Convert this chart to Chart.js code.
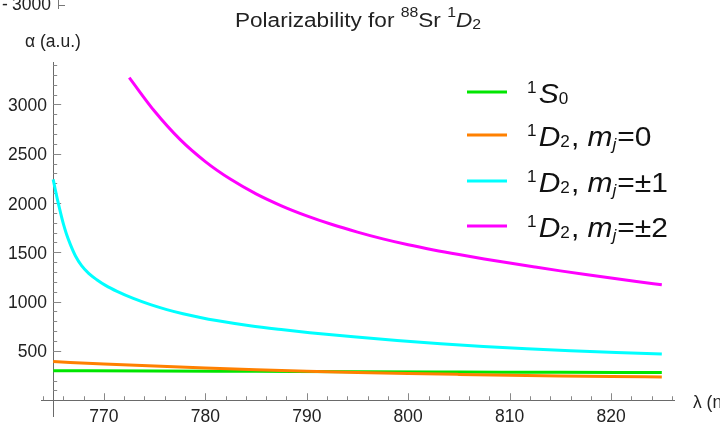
<!DOCTYPE html>
<html><head><meta charset="utf-8">
<script src="https://cdn.jsdelivr.net/npm/chart.js@4.4.0/dist/chart.umd.min.js"></script>
<style>html,body{margin:0;padding:0;background:#fff;overflow:hidden}</style>
</head><body>
<canvas id="c" width="720" height="422"></canvas>
<script>
// ---- data ----
const lambdaS0 = [765, 775, 785, 795, 805, 815, 825];
const alphaS0  = [300, 297, 293, 289, 286, 283, 281];

const lambdaD0 = [765, 770, 775, 780, 785, 790, 795, 800, 805, 810, 815, 820, 825];
const alphaD0  = [392, 367, 346, 327, 310, 295, 282, 271, 262, 254, 247, 241, 236];

const lambdaD1 = [765, 765.2, 765.4, 765.7, 766, 766.3, 766.7, 767.2, 767.8, 768.5, 769.3, 770.2, 771.3, 772.9, 774.6, 776.2, 777.8, 779.5, 781.1, 784.4, 787.7, 790.3, 794.6, 798.9, 803.2, 807.4, 811.7, 816, 820.5, 825];
const alphaD1  = [2240, 2140, 2045, 1912, 1790, 1688, 1578, 1463, 1365, 1287, 1222, 1162, 1104, 1032, 969, 919, 877, 839, 808, 755, 714, 685, 643, 606, 573, 546, 522, 502, 484, 468];

const lambdaD2 = [772.5, 775, 777.5, 780, 782.5, 785, 787.5, 790, 792.5, 795, 797.5, 800, 802.5, 805, 807.5, 810, 812.5, 815, 817.5, 820, 822.5, 825];
const alphaD2  = [3272, 2930, 2645, 2420, 2240, 2093, 1972, 1870, 1782, 1705, 1636, 1576, 1524, 1477, 1433, 1391, 1351, 1312, 1275, 1239, 1204, 1170];

const xMajorTicks = [770, 780, 790, 800, 810, 820];
const yMajorTicks = [500, 1000, 1500, 2000, 2500, 3000];
const xMinorStep = 2, yMinorStep = 100;

const seriesColors = ['#00e600', '#ff8000', '#00ffff', '#ff00ff'];

function pts(xs, ys) { return xs.map((x, i) => ({x: x, y: ys[i]})); }

const FONT = "'Liberation Sans', Arial, sans-serif";

function drawRich(ctx, parts, x, y, align, sx) {
  sx = sx || 1;
  let total = 0;
  parts.forEach(p => {
    ctx.font = (p.it ? 'italic ' : '') + p.s + 'px ' + FONT;
    p.w = ctx.measureText(p.t).width + (p.gap || 0);
    total += p.w;
  });
  ctx.save();
  const startX = align === 'center' ? x - total * sx / 2 : x;
  ctx.translate(startX, y);
  ctx.scale(sx, 1);
  ctx.textAlign = 'left';
  ctx.textBaseline = 'alphabetic';
  let cx = 0;
  parts.forEach(p => {
    ctx.font = (p.it ? 'italic ' : '') + p.s + 'px ' + FONT;
    ctx.fillText(p.t, cx, p.dy || 0);
    cx += p.w;
  });
  ctx.restore();
}

const axesPlugin = {
  id: 'mathAxes',
  beforeDatasetsDraw(chart) {
    const ctx = chart.ctx, xs = chart.scales.x, ys = chart.scales.y, a = chart.chartArea;
    const x0 = xs.getPixelForValue(765), y0 = ys.getPixelForValue(0);
    ctx.save();
    ctx.strokeStyle = '#6a6a6a';
    ctx.lineWidth = 1;
    ctx.beginPath();
    ctx.moveTo(Math.round(x0) + 0.5, a.top); ctx.lineTo(Math.round(x0) + 0.5, a.bottom);
    ctx.moveTo(a.left, Math.round(y0) + 0.5); ctx.lineTo(a.right, Math.round(y0) + 0.5);
    ctx.stroke();
    ctx.strokeStyle = '#888';
    ctx.beginPath();
    for (let v = 764; v <= 826.01; v += xMinorStep) {
      const px = Math.round(xs.getPixelForValue(v)) + 0.5;
      const len = xMajorTicks.includes(v) ? 7 : 4;
      ctx.moveTo(px, y0); ctx.lineTo(px, y0 - len);
    }
    for (let v = 100; v <= 3400.01; v += yMinorStep) {
      const py = Math.round(ys.getPixelForValue(v)) + 0.5;
      const len = yMajorTicks.includes(v) ? 8 : 4;
      ctx.moveTo(x0, py); ctx.lineTo(x0 + len, py);
    }
    ctx.stroke();
    ctx.restore();
  },
  afterDraw(chart) {
    const ctx = chart.ctx, xs = chart.scales.x, ys = chart.scales.y;
    ctx.save();
    ctx.fillStyle = '#222';
    ctx.font = '17.5px ' + FONT;
    ctx.textAlign = 'right'; ctx.textBaseline = 'alphabetic';
    yMajorTicks.forEach(v => ctx.fillText(String(v), 47, ys.getPixelForValue(v) + 6.5));
    ctx.textAlign = 'center';
    xMajorTicks.forEach(v => ctx.fillText(String(v), xs.getPixelForValue(v), 421.5));
    ctx.textAlign = 'left';
    ctx.fillText('α (a.u.)', 25, 47);
    ctx.fillText('λ (nm)', 693, 408);
    // fragment of neighbouring figure at top-left
    ctx.fillText('3000', 12, 10);
    ctx.fillText('-', 2, 10);
    ctx.strokeStyle = '#777'; ctx.lineWidth = 1;
    ctx.beginPath();
    ctx.moveTo(58.5, 0); ctx.lineTo(58.5, 9);
    ctx.moveTo(58, 5.5); ctx.lineTo(65, 5.5);
    ctx.stroke();
    // title
    ctx.fillStyle = '#222';
    drawRich(ctx, [
      {t: 'Polarizability for ', s: 20},
      {t: '88', s: 14, dy: -10},
      {t: 'Sr ', s: 20},
      {t: '1', s: 14, dy: -10},
      {t: 'D', s: 20, it: true},
      {t: '2', s: 14, dy: 2}
    ], 358, 27, 'center', 1.13);
    // legend
    const head = () => [{t: '1', s: 16, dy: -10, gap: 2}, {t: 'D', s: 28, it: true}, {t: '2', s: 16, dy: 1, gap: 1}, {t: ', ', s: 28}, {t: 'm', s: 28, it: true}, {t: 'j', s: 16, it: true, dy: 4, gap: 1}];
    const rows = [
      [{t: '1', s: 16, dy: -10, gap: 2}, {t: 'S', s: 28, it: true}, {t: '0', s: 16, dy: 1}],
      head().concat([{t: '=0', s: 28}]),
      head().concat([{t: '=±1', s: 28}]),
      head().concat([{t: '=±2', s: 28}])
    ];
    const rowY = [92, 135, 181, 226];
    rows.forEach((r, i) => {
      ctx.strokeStyle = seriesColors[i]; ctx.lineWidth = 3;
      ctx.beginPath(); ctx.moveTo(467, rowY[i]); ctx.lineTo(507, rowY[i]); ctx.stroke();
      ctx.fillStyle = '#111';
      drawRich(ctx, r, 527, rowY[i] + 10.5, 'left', 1.07);
    });
    ctx.restore();
  }
};

const ds = (label, xs, ys, color, order) => ({
  label: label, data: pts(xs, ys), borderColor: color, backgroundColor: color,
  borderWidth: 3, pointRadius: 0, fill: false, cubicInterpolationMode: 'monotone', order: order
});

new Chart(document.getElementById('c'), {
  type: 'line',
  data: {
    datasets: [
      ds('1S0', lambdaS0, alphaS0, seriesColors[0], 4),
      ds('1D2 mj=0', lambdaD0, alphaD0, seriesColors[1], 3),
      ds('1D2 mj=±1', lambdaD1, alphaD1, seriesColors[2], 2),
      ds('1D2 mj=±2', lambdaD2, alphaD2, seriesColors[3], 1)
    ]
  },
  options: {
    responsive: false,
    devicePixelRatio: 1,
    animation: false,
    layout: {padding: {left: 41, right: 45, top: 62, bottom: 5}},
    plugins: {legend: {display: false}, title: {display: false}, tooltip: {enabled: false}},
    scales: {
      x: {type: 'linear', min: 763.8, max: 826.3, display: false},
      y: {type: 'linear', min: -170, max: 3430, display: false}
    }
  },
  plugins: [axesPlugin]
});
</script>
</body></html>
